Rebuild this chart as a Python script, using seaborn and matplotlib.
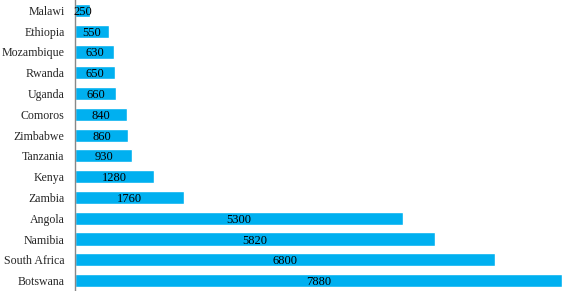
import matplotlib
matplotlib.use("Agg")
import matplotlib.pyplot as plt
import seaborn as sns
import pandas as pd

countries = ["Malawi", "Ethiopia", "Mozambique", "Rwanda", "Uganda", "Comoros", "Zimbabwe",
             "Tanzania", "Kenya", "Zambia", "Angola", "Namibia", "South Africa", "Botswana"]
values = [250, 550, 630, 650, 660, 840, 860, 930, 1280, 1760, 5300, 5820, 6800, 7880]

df = pd.DataFrame({"country": countries, "value": values})

sns.set_theme(style="white")
plt.rcParams["font.family"] = ["Liberation Serif", "DejaVu Serif"]

fig = plt.figure(figsize=(5.62, 2.91), dpi=100)
ax = fig.add_axes([75 / 562, 0.0, 1 - 75 / 562, 1.0])
sns.barplot(data=df, y="country", x="value", orient="h", color="#00B0F0",
            saturation=1, width=0.63, ax=ax)
ax.set_xlim(0, 7880)
ax.set_ylim(13.5, -0.5)
ax.set_xlabel("")
ax.set_ylabel("")
ax.set_xticks([])
for s in ["top", "right", "bottom"]:
    ax.spines[s].set_visible(False)
ax.spines["left"].set_color("#888888")
ax.spines["left"].set_linewidth(1)
ax.tick_params(axis="y", length=0, pad=7.5, labelsize=8.6)
for cont in ax.containers:
    texts = ax.bar_label(cont, labels=[str(v) for v in values], label_type="center",
                         fontsize=9, color="black")
    for t in texts:
        t.set_va("center_baseline")
fig.savefig("out.png", dpi=100)
